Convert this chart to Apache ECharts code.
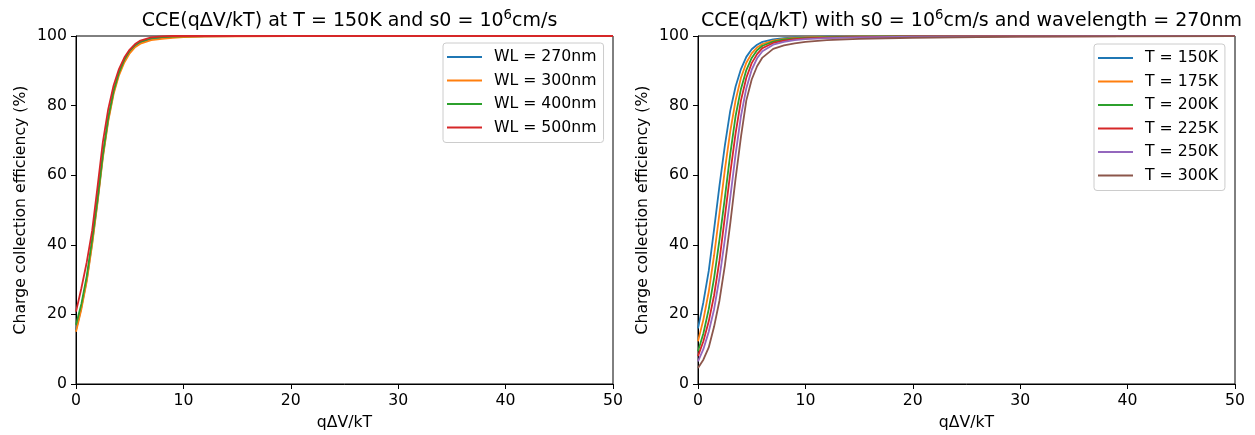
<!DOCTYPE html>
<html>
<head>
<meta charset="utf-8">
<script src="https://cdn.jsdelivr.net/npm/echarts@6/dist/echarts.min.js"></script>
<style>
html,body{margin:0;padding:0;background:#fff;}
#c{width:1255px;height:435px;}
</style>
</head>
<body>
<div id="c"></div>
<script>
// ---- data ----
const xs = [0, 0.5, 1, 1.5, 2, 2.5, 3, 3.5, 4, 4.5, 5, 5.5, 6, 7, 8, 9, 10, 12, 15, 20, 30, 40, 50];

// Left panel: CCE vs qΔV/kT at T = 150K for several wavelengths
const wlNames = ['WL = 270nm', 'WL = 300nm', 'WL = 400nm', 'WL = 500nm'];
const wl270 = [15.5, 22, 30, 40.5, 52.5, 65.5, 76, 83.8, 89.2, 92.9, 95.5, 97.1, 98.1, 99.1, 99.5, 99.7, 99.8, 99.9, 99.95, 99.97, 100, 100, 100];
const wl300 = [15, 21.5, 29.5, 40, 52, 65, 75.5, 83.3, 88.7, 92.4, 95, 96.8, 97.8, 98.8, 99.2, 99.5, 99.65, 99.8, 99.9, 99.95, 100, 100, 100];
const wl400 = [17, 23, 31, 41.5, 53, 66, 76.5, 84.2, 89.5, 93.2, 95.8, 97.4, 98.4, 99.4, 99.7, 99.85, 99.9, 99.95, 100, 100, 100, 100, 100];
const wl500 = [20.8, 27.5, 35, 44, 56.5, 69.5, 79, 85.8, 90.5, 93.8, 96.1, 97.7, 98.7, 99.6, 99.9, 100, 100, 100, 100, 100, 100, 100, 100];

// Right panel: CCE vs qΔ/kT at 270nm for several temperatures
const tNames = ['T = 150K', 'T = 175K', 'T = 200K', 'T = 225K', 'T = 250K', 'T = 300K'];
const t150 = [16, 23.5, 32.5, 44.5, 57, 68.5, 78.5, 85.5, 90.5, 94, 96.2, 97.5, 98.3, 99.0, 99.4, 99.6, 99.7, 99.8, 99.9, 99.95, 100, 100, 100];
const t175 = [12.3, 18.5, 26.5, 37, 49, 61.5, 72.5, 81.5, 88, 92.3, 95, 96.7, 97.7, 98.7, 99.2, 99.45, 99.6, 99.75, 99.85, 99.92, 99.97, 100, 100];
const t200 = [9.4, 14.5, 21.5, 30.5, 41.5, 53.5, 66, 77, 84.8, 90.2, 93.7, 95.9, 97.2, 98.4, 99.0, 99.3, 99.45, 99.65, 99.8, 99.9, 99.95, 99.98, 100];
const t225 = [8, 12.3, 18, 25.5, 35.5, 48, 60.5, 72, 81.5, 88, 92.2, 94.8, 96.5, 98.0, 98.7, 99.1, 99.3, 99.55, 99.7, 99.85, 99.93, 99.97, 99.98];
const t250 = [6.5, 10, 15, 21.5, 30.5, 41.5, 53.5, 66, 77, 85, 90.3, 93.6, 95.6, 97.5, 98.3, 98.8, 99.1, 99.4, 99.6, 99.8, 99.9, 99.95, 99.97];
const t300 = [4.6, 7, 10.5, 16.5, 24, 34, 46, 59, 71, 81.5, 87.5, 91.3, 93.8, 96.3, 97.3, 97.9, 98.3, 98.8, 99.2, 99.5, 99.8, 99.9, 99.95];

const xTicks = [0, 10, 20, 30, 40, 50];
const yTicks = [0, 20, 40, 60, 80, 100];

// ---- chart ----
const colors = ['#1f77b4', '#ff7f0e', '#2ca02c', '#d62728', '#9467bd', '#8c564b'];
const FONT = 'DejaVu Sans';
const TICK_FS = 15.7;

function pairs(ys) { return xs.map((x, i) => [x, ys[i]]); }

function xAxis(gi, name) {
  return {
    type: 'value', gridIndex: gi, min: xTicks[0], max: xTicks[xTicks.length - 1], interval: 10,
    name: name, nameLocation: 'middle', nameGap: 31,
    nameTextStyle: { color: '#000', fontSize: TICK_FS, fontFamily: FONT },
    axisLine: { show: true, lineStyle: { color: '#000', width: 1 } },
    axisTick: { show: true, inside: false, length: 5, lineStyle: { color: '#000', width: 1 } },
    axisLabel: { color: '#000', fontSize: TICK_FS, fontFamily: FONT, margin: 9 },
    splitLine: { show: false }
  };
}
function yAxis(gi, name) {
  return {
    type: 'value', gridIndex: gi, min: yTicks[0], max: yTicks[yTicks.length - 1], interval: 20,
    name: name, nameLocation: 'middle', nameGap: 47,
    nameTextStyle: { color: '#000', fontSize: TICK_FS, fontFamily: FONT },
    axisLine: { show: true, lineStyle: { color: '#000', width: 1 } },
    axisTick: { show: true, inside: false, length: 5, lineStyle: { color: '#000', width: 1 } },
    axisLabel: { color: '#000', fontSize: TICK_FS, fontFamily: FONT, margin: 9 },
    splitLine: { show: false }
  };
}
function mkSeries(name, ys, idx, gi) {
  return {
    type: 'line', name: name, xAxisIndex: gi, yAxisIndex: gi,
    data: pairs(ys), showSymbol: false, symbol: 'none', smooth: false,
    lineStyle: { color: colors[idx], width: 1.8 }, itemStyle: { color: colors[idx] },
    animation: false, z: 2 + idx
  };
}

const leftData = [wl270, wl300, wl400, wl500];
const rightData = [t150, t175, t200, t225, t250, t300];
const series = [];
leftData.forEach((d, i) => series.push(mkSeries(wlNames[i], d, i, 0)));
rightData.forEach((d, i) => series.push(mkSeries(tNames[i], d, i, 1)));

function legend(names, left, top) {
  return {
    data: names.map(n => ({ name: n, icon: 'rect' })),
    orient: 'vertical', left: left, top: top,
    itemWidth: 35, itemHeight: 2, itemGap: 5.5,
    padding: [5, 7, 6, 4],
    borderColor: '#cccccc', borderWidth: 1, borderRadius: 3, backgroundColor: '#fff',
    textStyle: { color: '#000', fontSize: TICK_FS, fontFamily: FONT, padding: [0, 0, 0, 7], lineHeight: 18 },
    selectedMode: false
  };
}

const sup = { fontSize: 13.3, fontFamily: FONT, color: '#000', verticalAlign: 'top', lineHeight: 24 };
const nrm = { fontSize: 19, fontFamily: FONT, color: '#000', lineHeight: 24 };

const option = {
  animation: false,
  backgroundColor: '#fff',
  title: [
    { text: '{n|CCE(qΔV/kT) at T = 150K and s0 = 10}{s|6}{n|cm/s}', left: 344.5, textAlign: 'center', top: 4,
      textStyle: { color: '#000', fontSize: 19, fontWeight: 'normal', fontFamily: FONT, rich: { n: nrm, s: sup } } },
    { text: '{n|CCE(qΔ/kT) with s0 = 10}{s|6}{n|cm/s and wavelength = 270nm}', left: 966.5, textAlign: 'center', top: 4,
      textStyle: { color: '#000', fontSize: 19, fontWeight: 'normal', fontFamily: FONT, rich: { n: nrm, s: sup } } }
  ],
  grid: [
    { left: 76, right: 642, top: 36, bottom: 51, show: true, borderColor: '#000', borderWidth: 1, backgroundColor: 'transparent', outerBoundsMode: 'none', containLabel: false },
    { left: 698, right: 20, top: 36, bottom: 51, show: true, borderColor: '#000', borderWidth: 1, backgroundColor: 'transparent', outerBoundsMode: 'none', containLabel: false }
  ],
  xAxis: [xAxis(0, 'qΔV/kT'), xAxis(1, 'qΔV/kT')],
  yAxis: [yAxis(0, 'Charge collection efficiency (%)'), yAxis(1, 'Charge collection efficiency (%)')],
  legend: [legend(wlNames, 443, 43), legend(tNames, 1094, 44)],
  series: series
};

const chart = echarts.init(document.getElementById('c'), null, { renderer: 'canvas' });
chart.setOption(option);
</script>
</body>
</html>
